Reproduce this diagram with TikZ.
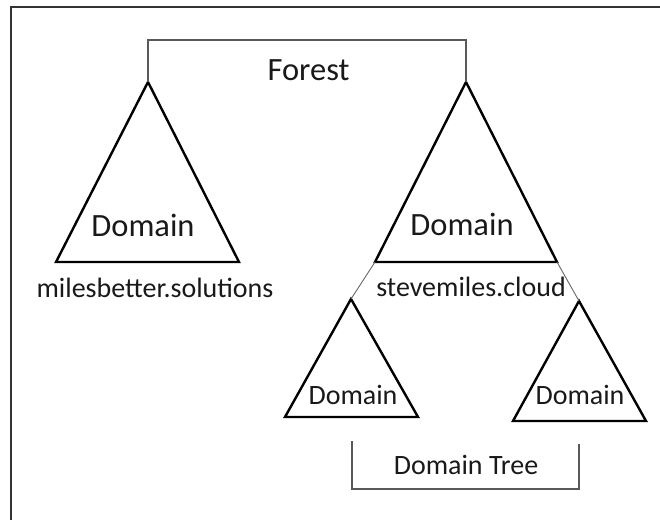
\documentclass[tikz,border=0pt]{standalone}
\usepackage{fontspec}
\setmainfont{Carlito}
\begin{document}
\begin{tikzpicture}[x=1pt,y=-1pt,
  tri/.style={draw=black, line width=2.4pt, line join=miter},
  bracket/.style={draw=black!65, line width=1.2pt},
  link/.style={draw=black!60, line width=0.9pt},
  frame/.style={draw=black!80, line width=2.6pt},
  big/.style={anchor=base, inner sep=0pt, text=black!90, font=\fontsize{32.5}{36}\selectfont},
  small/.style={anchor=base, inner sep=0pt, text=black!90, font=\fontsize{28}{32}\selectfont}]
\clip (0,0) rectangle (660,519);
\useasboundingbox (0,0) rectangle (660,519);
\draw[frame] (11,7) rectangle (700,560);

% triangle corner coordinates
\coordinate (bLa) at (148,82);  \coordinate (bLl) at (56,262);  \coordinate (bLr) at (239,262);
\coordinate (bRa) at (466,82);  \coordinate (bRl) at (375,262); \coordinate (bRr) at (557,262);
\coordinate (sLa) at (351,299); \coordinate (sLl) at (285,417); \coordinate (sLr) at (418,417);
\coordinate (sRa) at (579,301); \coordinate (sRl) at (513,421); \coordinate (sRr) at (646,421);

\draw[tri] (bLa) -- (bLr) -- (bLl) -- cycle;
\draw[tri] (bRa) -- (bRr) -- (bRl) -- cycle;
\draw[tri] (sLa) -- (sLr) -- (sLl) -- cycle;
\draw[tri] (sRa) -- (sRr) -- (sRl) -- cycle;

% links from parent domain to child domains
\draw[link] (bRl) -- (sLa);
\draw[link] (bRr) -- (sRa);

% forest bracket
\draw[bracket] (bLa) -- (148,40) -- (466,40) -- (bRa);

% domain tree bracket
\coordinate (dtL) at (352,441);
\coordinate (dtR) at (579,444);
\draw[bracket] (dtL) -- (352,489) -- (579,489) -- (dtR);

% labels
\node[big] (forest) at (308.5,80) {Forest};
\node[big] (dL) at (143,236) {Domain};
\node[big] (dR) at (462,235) {Domain};
\node[small] (mbs) at (155,297) {milesbetter.solutions};
\node[small] (smc) at (471,296) {stevemiles.cloud};
\node[small] (dsL) at (353,404) {Domain};
\node[small] (dsR) at (580,404) {Domain};
\node[small] (dtree) at (466,474) {Domain Tree};
\end{tikzpicture}
\end{document}
